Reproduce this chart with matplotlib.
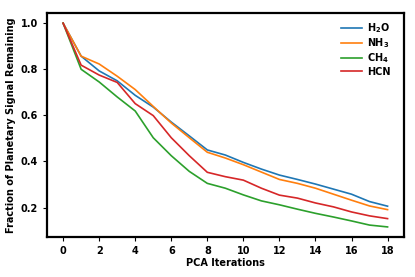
import matplotlib
matplotlib.use("Agg")
import matplotlib.pyplot as plt
import numpy as np

plt.rcParams['font.weight'] = 'bold'
plt.rcParams['mathtext.default'] = 'bf'

iterations = np.arange(19)
h2o = [1.0, 0.857, 0.793, 0.750, 0.687, 0.636, 0.571, 0.511, 0.450, 0.428, 0.396,
       0.367, 0.341, 0.322, 0.302, 0.280, 0.258, 0.226, 0.206]
nh3 = [1.0, 0.857, 0.823, 0.770, 0.712, 0.639, 0.567, 0.503, 0.440, 0.415, 0.386,
       0.354, 0.322, 0.305, 0.284, 0.258, 0.232, 0.207, 0.191]
ch4 = [1.0, 0.800, 0.745, 0.680, 0.619, 0.503, 0.425, 0.357, 0.305, 0.284, 0.255,
       0.229, 0.212, 0.193, 0.175, 0.159, 0.142, 0.124, 0.116]
hcn = [1.0, 0.818, 0.775, 0.743, 0.651, 0.599, 0.503, 0.425, 0.353, 0.334, 0.319,
       0.284, 0.254, 0.241, 0.220, 0.203, 0.181, 0.164, 0.152]
labels = [r'H$_2$O', r'NH$_3$', r'CH$_4$', 'HCN']

fig = plt.figure(figsize=(4.15, 2.77), dpi=100)
ax = fig.add_axes([0.113, 0.144, 0.86, 0.809])

for series, label in zip([h2o, nh3, ch4, hcn], labels):
    ax.plot(iterations, series, linewidth=1.2, label=label)

ax.set_xticks(np.arange(0, 19, 2))
ax.set_yticks([0.2, 0.4, 0.6, 0.8, 1.0])
ax.tick_params(labelsize=7, width=0.8, length=3)
ax.set_xlabel('PCA Iterations', fontsize=7, fontweight='bold', labelpad=1)
ax.set_ylabel('Fraction of Planetary Signal Remaining', fontsize=7, fontweight='bold', labelpad=3)
for s in ax.spines.values():
    s.set_linewidth(1.6)
ax.legend(frameon=False, fontsize=7, loc='upper right', handlelength=2.2,
          labelspacing=0.15, handletextpad=0.5, borderaxespad=0.2,
          bbox_to_anchor=(0.98, 0.99))

fig.savefig('out.png', dpi=100)
